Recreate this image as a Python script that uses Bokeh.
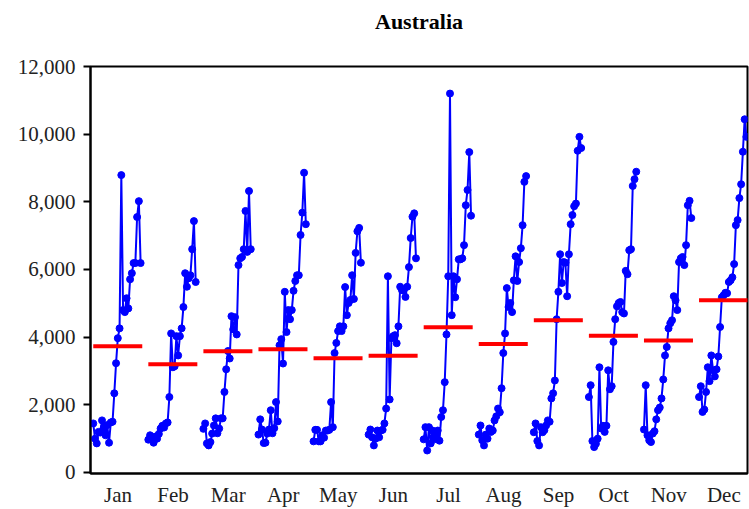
from bokeh.plotting import figure
from bokeh.models import Range1d, FixedTicker, NumeralTickFormatter, Title
from bokeh.embed import file_html
from bokeh.resources import INLINE

months = ["Jan", "Feb", "Mar", "Apr", "May", "Jun", "Jul", "Aug", "Sep", "Oct", "Nov", "Dec"]

jan_vals = [1450, 1000, 860, 1200, 1180, 1540, 1330, 1100, 1400, 880, 1480, 1500, 2340, 3230, 3970, 4260, 8790, 4800, 4740, 5150, 4850, 5710, 5890, 6190, 6190, 7550, 8020, 6190]
feb_vals = [970, 1100, 970, 880, 1060, 1000, 1140, 1300, 1380, 1330, 1450, 1480, 2230, 4110, 3110, 3140, 4030, 3460, 4030, 4260, 4890, 5890, 5490, 5740, 5830, 6600, 7430, 5630]
mar_vals = [1290, 1450, 860, 800, 900, 1150, 1390, 1600, 1160, 1300, 1600, 1600, 2380, 3050, 3590, 3370, 4620, 4230, 4590, 4080, 6130, 6330, 6370, 6600, 7730, 6520, 8320, 6600]
apr_vals = [1120, 1570, 1270, 870, 880, 1150, 1270, 1840, 1160, 1310, 2080, 1510, 3760, 3940, 3220, 5340, 4150, 4800, 4530, 4800, 5370, 5660, 5830, 5830, 7020, 7680, 8860, 7340]
may_vals = [920, 1260, 1260, 920, 920, 1100, 1030, 1240, 1240, 1260, 2080, 1340, 3530, 3830, 4180, 4320, 4180, 4320, 5480, 4650, 5010, 5100, 5830, 5130, 6490, 7130, 7230, 6200]
jun_vals = [1120, 1270, 1040, 800, 1000, 1240, 1040, 1240, 1260, 1450, 1890, 5800, 2160, 3970, 4030, 4060, 3820, 4320, 5490, 5390, 5400, 5190, 5490, 6070, 6930, 7560, 7660, 6330]
jul_vals = [980, 1340, 650, 1340, 860, 1240, 980, 1100, 1240, 940, 1640, 1840, 2670, 4080, 5800, 11200, 4650, 5800, 5180, 5710, 6300, 6300, 6330, 6720, 7900, 8350, 9470, 7590]
aug_vals = [1120, 1390, 950, 800, 1120, 1000, 1300, 1200, 1240, 1540, 1660, 1890, 1780, 2490, 3530, 4110, 5450, 4890, 5010, 4740, 5680, 6390, 5660, 6220, 6630, 7310, 8590, 8760]
sep_vals = [1190, 1450, 930, 800, 1340, 1190, 1250, 1390, 1540, 1500, 2190, 2340, 2720, 4530, 5340, 6450, 5600, 6220, 6200, 5210, 6450, 7340, 7610, 7870, 7950, 9510, 9920, 9590]
oct_vals = [2230, 2580, 930, 750, 850, 1000, 3110, 1300, 1380, 1200, 1380, 3020, 2460, 2550, 3860, 4530, 4910, 5010, 5040, 4740, 4700, 5960, 5860, 6570, 6600, 8470, 8670, 8890]
nov_vals = [1270, 2580, 1100, 950, 900, 1150, 1220, 1570, 1840, 1920, 2190, 2750, 3460, 3710, 4260, 4410, 4500, 5210, 5090, 4800, 6220, 6330, 6370, 6130, 6720, 7900, 8030, 7520]
dec_vals = [2230, 2550, 1790, 1860, 2380, 3110, 2700, 3460, 3020, 2840, 3050, 3430, 4300, 5180, 5240, 5310, 5300, 5630, 5680, 5770, 6160, 7310, 7460, 8110, 8520, 9480, 10440, 9920]

month_means = [3730, 3200, 3580, 3640, 3380, 3450, 4290, 3800, 4500, 4040, 3900, 5090]

y_ticks = [0, 2000, 4000, 6000, 8000, 10000, 12000]

series = [jan_vals, feb_vals, mar_vals, apr_vals, may_vals, jun_vals,
          jul_vals, aug_vals, sep_vals, oct_vals, nov_vals, dec_vals]

p = figure(width=749, height=509, output_backend="svg", toolbar_location=None,
           x_range=Range1d(0, 11.93), y_range=Range1d(-30, 12000),
           min_border_left=90, min_border_right=2, min_border_top=66, min_border_bottom=36)

spacer = Title(text=" ", text_font_size="23px", standoff=0)
p.add_layout(spacer, "above")
title = Title(text="Australia", align="center", text_font="Liberation Serif",
              text_font_style="bold", text_font_size="22px", text_color="black")
p.add_layout(title, "above")

p.xgrid.visible = False
p.ygrid.visible = False
p.outline_line_color = "black"
p.outline_line_width = 2
p.background_fill_color = "white"
p.border_fill_color = "white"

for i, vals in enumerate(series):
    n = len(vals)
    xs = [i + 0.05 + 0.86 * k / (n - 1) for k in range(n)]
    p.line(xs, vals, line_color="blue", line_width=2)
    p.scatter(xs, vals, size=7, fill_color="blue", line_color="blue")
    p.line([i + 0.05, i + 0.94], [month_means[i]] * 2, line_color="red", line_width=4)

# y axis
yax = p.yaxis[0]
yax.ticker = FixedTicker(ticks=y_ticks)
yax.formatter = NumeralTickFormatter(format="0,0")
yax.axis_line_width = 2
yax.axis_line_color = "black"
yax.major_tick_in = 0
yax.major_tick_out = 7
yax.major_tick_line_width = 2
yax.minor_tick_line_color = None
yax.major_label_text_font = "Liberation Serif"
yax.major_label_text_font_size = "21px"
yax.major_label_text_color = "#222222"
yax.major_label_standoff = 8

# x axis
xax = p.xaxis[0]
xax.ticker = FixedTicker(ticks=[i + 0.5 for i in range(12)])
xax.major_label_overrides = {i + 0.5: m for i, m in enumerate(months)}
xax.axis_line_width = 2
xax.axis_line_color = "black"
xax.major_tick_in = 0
xax.major_tick_out = 0
xax.minor_tick_line_color = None
xax.major_label_text_font = "Liberation Serif"
xax.major_label_text_font_size = "21px"
xax.major_label_text_color = "#222222"
xax.major_label_standoff = 9

open("out.html", "w").write(file_html(p, INLINE))
